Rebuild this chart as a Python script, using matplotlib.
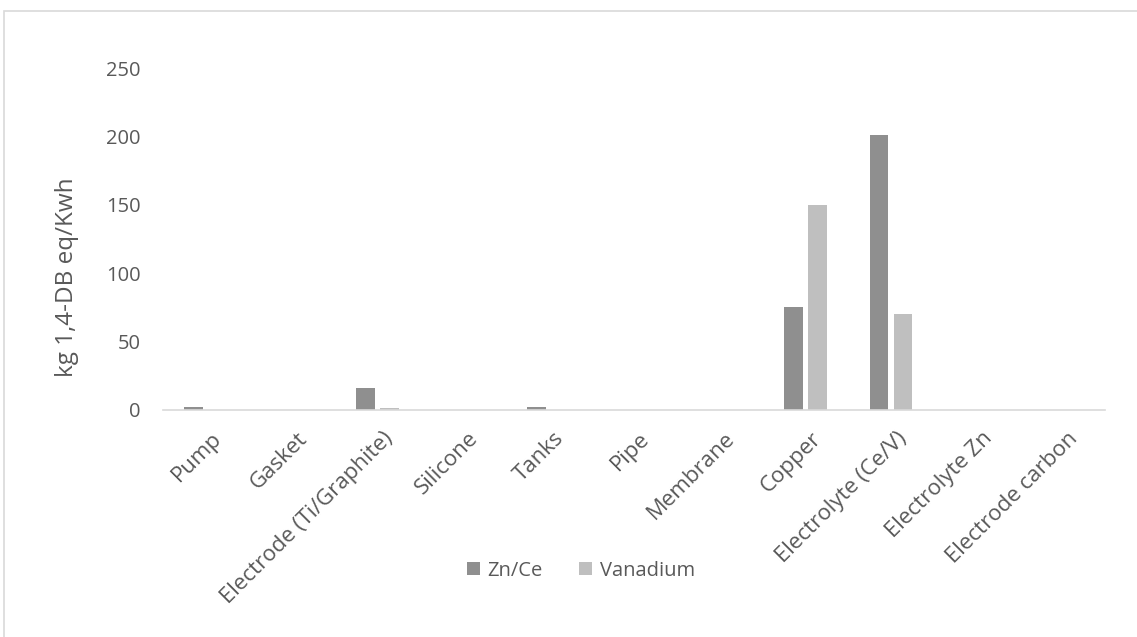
import matplotlib.pyplot as plt
import matplotlib.transforms as mtransforms
import numpy as np
from matplotlib.patches import Rectangle

plt.rcParams['font.family'] = ['Open Sans', 'DejaVu Sans']

categories = ["Pump", "Gasket", "Electrode (Ti/Graphite)", "Silicone", "Tanks", "Pipe",
              "Membrane", "Copper", "Electrolyte (Ce/V)", "Electrolyte Zn", "Electrode carbon"]
zn_ce = [2, 0, 16, 0, 2, 0, 0, 75, 201, 0, 0]
vanadium = [0, 0, 1.5, 0, 0, 0, 0, 150, 70, 0, 0]

fig = plt.figure(figsize=(11.37, 6.37), dpi=100)
ax = fig.add_axes([0.1434, 0.3564, 0.8286, 0.5366])

x = np.arange(len(categories))
w = 0.22
ax.bar(x - 0.14, zn_ce, w, color="#8f8f8f", label="Zn/Ce")
ax.bar(x + 0.14, vanadium, w, color="#bfbfbf", label="Vanadium")

ax.set_xlim(-0.5, len(categories) - 0.5)
ax.set_ylim(0, 250)
ax.set_yticks([0, 50, 100, 150, 200, 250])
ax.set_xticks(x)
ax.set_xticklabels(categories, rotation=45, ha="right", rotation_mode="anchor")
ax.tick_params(axis="both", length=0, colors="#595959")
ax.tick_params(axis="y", pad=16, labelsize=14.5)
ax.tick_params(axis="x", pad=13, labelsize=16)

# nudge the slanted category labels a little to the right
shift = mtransforms.ScaledTranslation(5 / 100, 0, fig.dpi_scale_trans)
for lab in ax.get_xticklabels():
    lab.set_transform(lab.get_transform() + shift)

for s in ["top", "right", "left"]:
    ax.spines[s].set_visible(False)
ax.spines["bottom"].set_color("#d9d9d9")
ax.spines["bottom"].set_linewidth(1.2)

fig.text(67 / 1137, 1 - 277 / 637, "kg 1,4-DB eq/Kwh", rotation=90,
         ha="center", va="center", fontsize=17.5, color="#595959")

fig.legend(loc="center", bbox_to_anchor=(0.511, 0.104), ncol=2, frameon=False,
           fontsize=14.5, handlelength=0.65, handleheight=0.65, columnspacing=1.8,
           handletextpad=0.4, labelcolor="#595959")

# chart frame
fig.patches.append(Rectangle((4 / 1137, -0.05), 1.05, 0.05 + 1 - 11 / 637,
                             transform=fig.transFigure, fill=False,
                             edgecolor="#d9d9d9", linewidth=1.2))

fig.savefig("out.png", dpi=100)
